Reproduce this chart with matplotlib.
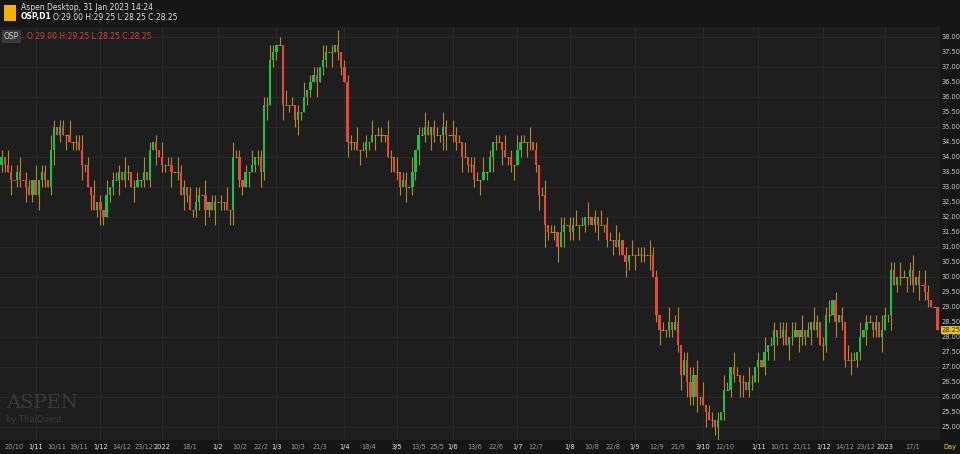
import numpy as np
import matplotlib.pyplot as plt
from matplotlib.patches import Rectangle

# closes por tramos (aprox. 16 velas cada uno)
close_parts = [
    [34.0, 33.75, 33.5, 33.25, 33.25, 33.5, 33.25, 33.25, 33.0, 32.75, 33.25, 32.75, 33.25, 33.5, 33.25, 33.0],
    [34.25, 35.0, 34.75, 35.0, 34.75, 34.75, 34.5, 34.5, 34.5, 34.25, 33.75, 33.75, 33.0, 32.75, 32.25, 32.5],
    [32.25, 32.0, 32.75, 33.0, 33.25, 33.25, 33.5, 33.25, 33.5, 33.5, 33.0, 33.0, 33.25, 33.25, 33.5, 33.25],
    [34.25, 34.5, 34.25, 34.0, 33.75, 33.75, 33.75, 33.5, 33.5, 33.5, 32.75, 33.0, 32.75, 32.25, 32.25, 32.5],
    [32.75, 32.75, 32.25, 32.5, 32.25, 32.5, 32.5, 32.5, 32.5, 32.25, 32.25],
    [34.0, 34.0, 33.25, 33.0, 33.5, 33.5, 33.75, 34.0, 34.0, 33.5],
    [35.75, 35.75, 37.25, 37.5, 37.75, 37.75, 35.75, 35.75, 35.75, 35.75, 35.25],
    [35.5, 35.5, 36.0, 36.25, 36.5, 36.75, 36.5, 37.0, 37.25, 37.5, 37.5, 37.5, 37.75, 37.5, 37.0, 36.5],
    [34.5, 34.5, 34.5, 34.25, 34.25, 34.25, 34.5, 34.5, 34.75, 34.75, 34.75, 34.75, 34.75, 34.0, 34.0, 33.5],
    [33.5, 33.0, 33.25, 33.0, 33.0, 33.5, 34.25, 34.75, 34.75, 35.0, 34.75, 35.0, 34.75, 34.75, 34.75, 35.0],
    [34.75, 34.75, 34.75, 34.5, 34.5, 34.0, 34.0, 33.75, 33.75, 33.25, 33.25, 33.25, 33.5, 33.5, 34.0, 34.5],
    [34.5, 34.5, 34.25, 34.0, 34.0, 33.75, 33.75, 34.25, 34.5, 34.5, 34.5, 34.5, 34.25, 33.75, 32.75, 32.75],
    [31.75, 31.5, 31.5, 31.5, 31.0, 31.5, 31.75, 31.75, 31.5, 31.75, 31.75, 31.75, 31.75, 32.0, 32.0, 31.75],
    [32.0, 31.75, 31.75, 31.75, 31.25, 31.25, 31.25, 31.0, 31.25, 30.75, 30.5, 30.75, 30.75, 30.75, 30.75, 30.75],
    [30.75, 30.75, 30.75, 30.0, 28.75, 28.25, 28.25, 28.25, 28.5, 28.25, 28.5, 27.75, 26.75, 27.25, 26.5, 26.0],
    [26.75, 26.0, 26.0, 25.75, 25.5, 25.25, 25.25, 25.0, 25.25, 25.5, 26.25, 26.25, 27.0, 26.75, 26.75, 26.5],
    [26.5, 26.25, 26.5, 26.5, 27.0, 27.25, 27.0, 27.5, 27.75, 27.75, 28.25, 28.0, 28.0, 28.25, 27.75, 28.0],
    [28.0, 28.25, 28.0, 28.25, 28.0, 28.25, 28.5, 28.25, 28.5, 27.75, 27.75, 28.75, 28.75, 29.25, 28.5, 28.75],
    [28.5, 27.25, 27.25, 27.25, 27.25, 27.5, 28.0, 28.25, 28.5, 28.5, 28.25, 28.5, 28.0, 28.25, 28.75, 28.75],
    [30.25, 29.75, 30.0, 30.0, 30.0, 30.0, 30.25, 29.75, 30.0, 29.75, 29.75, 29.5, 29.25, 29.0, 29.0, 28.25],
]
# mechas en ticks de 0.25 (arriba / abajo)
up_parts = ["1021012011020110", "2101102011201020", "1020111021011020", "1010201102110102",
            "10201101020", "2110102011", "11210102010", "1020111021010201", "1102011020110210",
            "2011020112101102", "1021102011102010", "1102010211020101", "2011021011201020",
            "1020110210102011", "1021101020120112", "1202011010210210", "1021010201102110",
            "2102010210112010", "1021102011010210", "1102101201021000"]
dn_parts = ["1102011020102110", "1201020110210201", "2101102011020110", "1020110201021011",
            "10210201102", "2011020112", "12011020101", "2101102011020110", "2110201102011020",
            "1102011201021012", "2011020111020102", "1020112010210120", "3101202011020110",
            "1201102010210201", "1020120111012021", "1210201120101102", "2011020110210102",
            "1021102010211020", "1102011020110201", "2011021102011000"]

closes = np.array([c for p in close_parts for c in p])
up = np.array([int(d) for p in up_parts for d in p]) * 0.25
dn = np.array([int(d) for p in dn_parts for d in p]) * 0.25
opens = np.concatenate([[33.75], closes[:-1]])
highs = np.maximum(opens, closes) + up
lows = np.minimum(opens, closes) - dn

tick_idx = [4, 11, 18, 25, 32, 39, 46, 52, 61, 70, 77, 84, 89, 96, 103, 111, 119, 128, 135, 141,
            146, 153, 160, 167, 173, 184, 191, 198, 205, 212, 219, 227, 234, 245, 252, 259, 266,
            273, 280, 286, 295]
tick_lbl = ["20/10", "1/11", "10/11", "19/11", "1/12", "14/12", "23/12", "2022", "18/1", "1/2",
            "10/2", "22/2", "1/3", "10/3", "21/3", "1/4", "18/4", "3/5", "13/5", "25/5", "1/6",
            "13/6", "22/6", "1/7", "12/7", "1/8", "10/8", "22/8", "1/9", "12/9", "21/9", "3/10",
            "12/10", "1/11", "10/11", "21/11", "1/12", "14/12", "23/12", "2023", "17/1"]
major = ["1/11", "1/12", "2022", "1/2", "1/3", "1/4", "3/5", "1/6", "1/7", "1/8", "1/9",
         "3/10", "2023"]

bg = "#1e1e1e"
fig = plt.figure(figsize=(9.6, 4.54), dpi=100, facecolor="#161616")
ax = fig.add_axes([0, 14/454, 940/960, 413/454], facecolor=bg)
ax.set_xlim(-0.5, 303.8)
ax.set_ylim(24.58, 38.35)

for y in np.arange(25, 38.01, 1.0):
    ax.axhline(y, color="#2a2a2a", lw=0.6, zorder=0)
for i, l in zip(tick_idx, tick_lbl):
    if l in major:
        ax.axvline(i, color="#2a2a2a", lw=0.6, zorder=0)

w = 0.72
for i in range(len(closes)):
    o, c = opens[i], closes[i]
    ax.vlines(i, lows[i], highs[i], color="#b08a30", lw=0.8, zorder=1)
    if c == o:
        ax.hlines(c, i - w/2, i + w/2, color="#b08a30", lw=0.8, zorder=2)
    else:
        col = "#16c24a" if c > o else "#e8473a"
        ax.add_patch(Rectangle((i - w/2, min(o, c)), w, abs(c - o), color=col, lw=0, zorder=2))

ax.set_xticks([])
ax.set_yticks([])
for s in ax.spines.values():
    s.set_visible(False)

# eje derecho
for y in np.arange(25, 38.01, 0.5):
    fig.text(942/960, ax.transData.transform((0, y))[1] / 454, f"{y:.2f}", color="#c8c8c8",
             fontsize=4.8, va="center", ha="left")
yl = ax.transData.transform((0, 28.25))[1] / 454
fig.text(942/960, yl, "28.25", color="#1e1e1e", fontsize=4.8, va="center", ha="left",
         bbox=dict(boxstyle="square,pad=0.15", fc="#e8c020", ec="none"))

# eje x
for i, l in zip(tick_idx, tick_lbl):
    xf = ax.transData.transform((i, 0))[0] / 960
    fig.text(xf, 7/454, l, color="#e8e8e8" if l in major else "#9a9a9a", fontsize=4.8,
             ha="center", va="center")
fig.text(950/960, 7/454, "Day", color="#e8d040", fontsize=4.8, ha="center", va="center")

# cabecera
fig.add_artist(Rectangle((4/960, 433/454), 12/960, 16/454, transform=fig.transFigure,
                         fc="#f0b400", ec="none"))
fig.text(21/960, 447/454, "Aspen Desktop, 31 Jan 2023 14:24", color="#e0e0e0", fontsize=5.5, va="center")
fig.text(21/960, 437/454, "OSP,D1", color="#ffffff", fontsize=5.5, va="center", weight="bold")
fig.text(53/960, 437/454, "O:29.00 H:29.25 L:28.25 C:28.25", color="#e0e0e0", fontsize=5.5, va="center")
ax.text(4/940, 1 - 5/413, "OSP", transform=ax.transAxes, color="#d0d0d0", fontsize=5.5, va="top",
        bbox=dict(boxstyle="square,pad=0.25", fc="#3a3a3a", ec="none"))
ax.text(27/940, 1 - 5/413, "O:29.00 H:29.25 L:28.25 C:28.25", transform=ax.transAxes,
        color="#d84030", fontsize=5.5, va="top")
ax.text(6/940, 28/413, "ASPEN", transform=ax.transAxes, color="#3a3a3a", fontsize=14,
        family="DejaVu Serif", va="bottom")
ax.text(6/940, 16/413, "by ThaiQuest", transform=ax.transAxes, color="#3a3a3a", fontsize=6, va="bottom")

plt.savefig("out.png", dpi=100, facecolor=fig.get_facecolor())
